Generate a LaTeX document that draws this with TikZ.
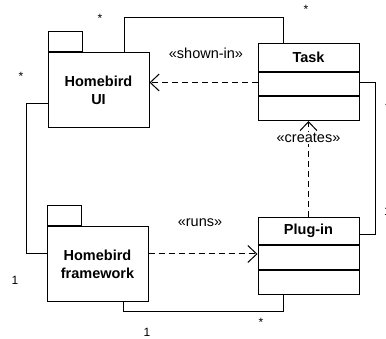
\documentclass[tikz,border=0pt]{standalone}
\usepackage{fontspec}
\setmainfont{Liberation Sans}
\usetikzlibrary{arrows.meta,calc}
\begin{document}
\begin{tikzpicture}[x=1pt,y=-1pt,line width=1pt,
  every node/.style={font=\fontsize{14.5}{17}\selectfont,inner sep=0pt},
  pkgbody/.style={draw,minimum width=101pt,minimum height=75pt,align=center,
    font=\fontsize{14.5}{17.5}\selectfont\bfseries},
  pkgtab/.style={draw,minimum width=34pt,minimum height=20pt,anchor=south west},
  classpart/.style={draw,minimum width=101pt,anchor=north},
  classtitle/.style={classpart,font=\fontsize{14.5}{17}\selectfont\bfseries},
  dep/.style={dash pattern=on 6pt off 4pt,-{Straight Barb[length=9pt,width=17pt]}},
  stereo/.style={fill=white,inner sep=1.5pt},
  mult/.style={font=\fontsize{12}{14}\selectfont}]
  \useasboundingbox (0,0) rectangle (386,339);

  % packages
  \node[pkgbody] (ui) at (98.5,90.5) {Homebird\\UI};
  \node[pkgtab] (uitab) at (ui.north west) {};
  \node[pkgbody] (fw) at (97.5,264.5) {Homebird\\framework};
  \node[pkgtab] (fwtab) at (fw.north west) {};

  % class Task
  \node[classtitle,minimum height=28pt] (tasktitle) at (308.5,43) {Task};
  \node[classpart,minimum height=23pt] (taskattr) at (tasktitle.south) {};
  \node[classpart,minimum height=24pt] (taskops) at (taskattr.south) {};

  % class Plug-in
  \node[classtitle,minimum height=27pt] (plugtitle) at (308.5,217) {Plug-in};
  \node[classpart,minimum height=24pt] (plugattr) at (plugtitle.south) {};
  \node[classpart,minimum height=24pt] (plugops) at (plugattr.south) {};

  % associations
  \draw ($(ui.north)+(25.5,0)$) -- ++(0,-35) -| ($(tasktitle.north)+(-25.5,0)$);
  \draw ($(fw.south)+(25.5,0)$) -- ++(0,9) -| ($(plugops.south)+(-25.5,0)$);
  \draw ($(ui.west)+(0,13.5)$) -- ++(-21,0) |- ($(fw.west)+(0,-10.5)$);
  \draw ($(taskattr.east)+(0,-1.5)$) -- ++(16,0) |- ($(plugtitle.east)+(0,4)$);

  % dependencies
  \draw[dep] ($(taskattr.west)+(0,-1.5)$) coordinate (s) -- (s -| ui.east);
  \draw[dep] ($(fw.east)+(0,-10.5)$) coordinate (r) -- (r -| plugattr.west);
  \draw[dep] (plugtitle.north) -- (taskops.south);

  % stereotypes
  \node[stereo] (lshown) at (206,53) {«shown-in»};
  \node[stereo] (lruns) at (200,223) {«runs»};
  \node[stereo] (lcreates) at (308.5,138) {«creates»};

  % multiplicities
  \node[mult] (m1) at (100,18) {*};
  \node[mult] (m2) at (306,9) {*};
  \node[mult] (m3) at (21,76) {*};
  \node[mult] (m4) at (261,322) {*};
  \node[mult,anchor=west] (m5) at (384.5,107) {*};
  \node[mult] (m6) at (15,280) {1};
  \node[mult] (m7) at (147,332) {1};
  \node[mult,anchor=west] (m8) at (383.5,211) {1};
\end{tikzpicture}
\end{document}
